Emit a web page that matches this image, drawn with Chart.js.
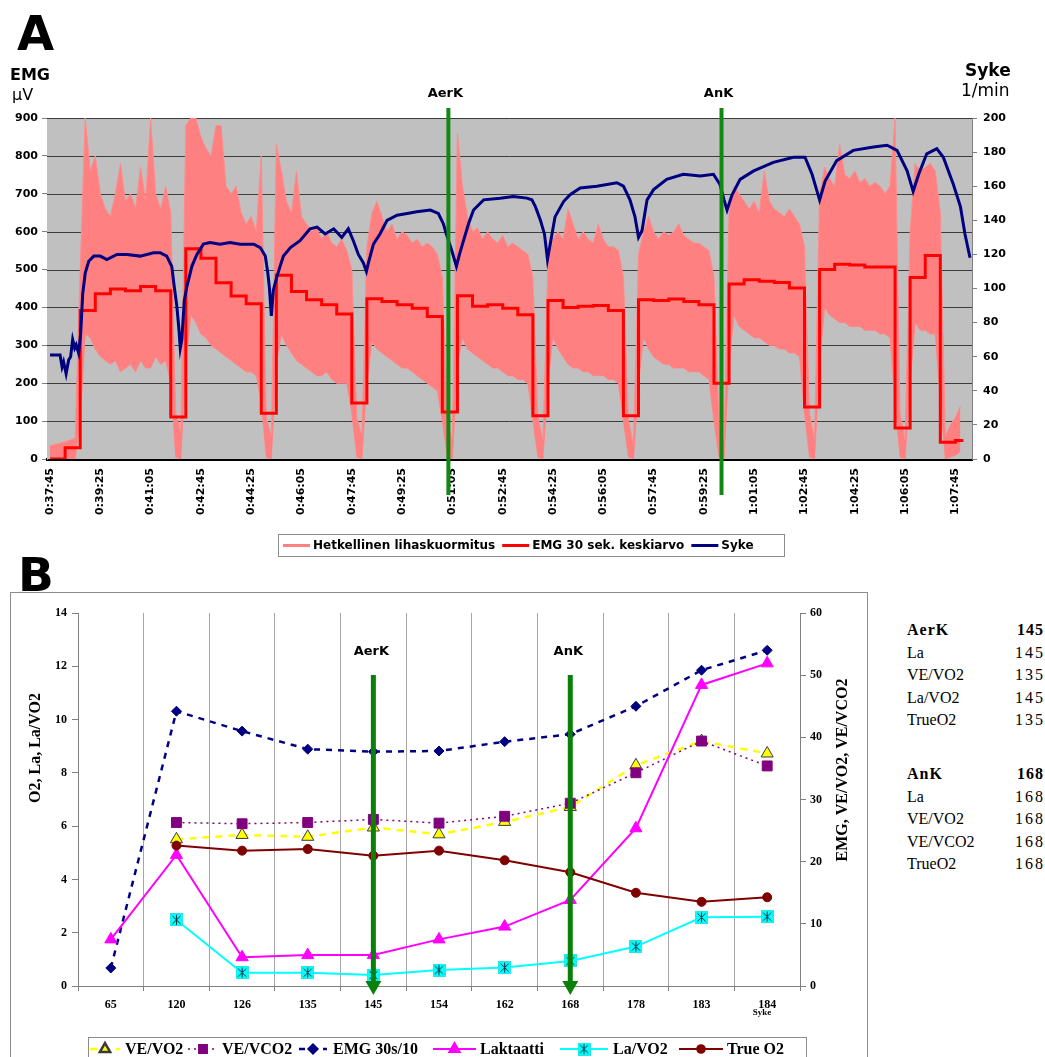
<!DOCTYPE html>
<html lang="fi">
<head>
<meta charset="utf-8">
<title>EMG, syke ja kynnykset</title>
<script src="https://cdn.jsdelivr.net/npm/chart.js@4.4.1/dist/chart.umd.min.js"></script>
<style>
  html, body { margin: 0; padding: 0; background: #fff; }
  body { width: 1045px; height: 1057px; position: relative; overflow: hidden; }
  .t { position: absolute; white-space: nowrap; line-height: 1; color: #000; }
  .sans { font-family: "DejaVu Sans", Verdana, sans-serif; }
  .serif { font-family: "Liberation Serif", "Times New Roman", serif; }
  #cA { position: absolute; left: 0; top: 0; }
  #frameB { position: absolute; left: 10px; top: 592px; width: 858px; height: 520px;
            border: 1px solid #8c8c8c; box-sizing: border-box; }
  #cB { position: absolute; left: 11px; top: 593px; }
  .row { position: absolute; left: 907px; width: 136px; font-size: 16px; line-height: 16px; }
  .row .v { position: absolute; right: -2px; top: 0; letter-spacing: 2px; }
  .row.head .k { font-weight: bold; letter-spacing: 1px; }
  .row.head .v { font-weight: bold; letter-spacing: 1px; right: -1px; }
</style>
</head>
<body>
<canvas id="cA" width="1045" height="565"></canvas>

<div class="t sans" style="left:17px;top:9px;font-size:48px;font-weight:bold;">A</div>
<div class="t sans" style="left:10px;top:67px;font-size:16px;font-weight:bold;">EMG</div>
<div class="t sans" style="left:12px;top:87px;font-size:16px;">µV</div>
<div class="t sans" style="left:965px;top:62px;font-size:17px;font-weight:bold;">Syke</div>
<div class="t sans" style="left:961px;top:82px;font-size:17px;">1/min</div>

<div id="frameB"></div>
<canvas id="cB" width="856" height="464"></canvas>
<div class="t sans" style="left:18px;top:551px;font-size:47px;font-weight:bold;">B</div>

<div id="table" class="serif"></div>

<script>
// ---------- Panel A: EMG and heart rate over the test ----------
const clockLabels = ['0:37:45','0:39:25','0:41:05','0:42:45','0:44:25','0:46:05','0:47:45',
  '0:49:25','0:51:05','0:52:45','0:54:25','0:56:05','0:57:45','0:59:25','1:01:05',
  '1:02:45','1:04:25','1:06:05','1:07:45'];

// Instantaneous muscle load: upper and lower envelope, one sample every 10 s
const rawStep = 10;
const rawHigh = [
  35, 38, 42, 45, 50, 55,
  500, 900, 760, 800, 700, 660, 640, 700, 780, 680, 700, 660, 770, 680, 900, 700, 660, 720, 650,
  120, 70,
  880, 900, 900, 850, 820, 800, 880, 880, 720, 700, 720, 650, 620, 640, 600, 800,
  110, 60,
  830, 760, 680, 650, 760, 640, 620, 600, 610, 580, 600, 570, 560, 580, 550, 500,
  110, 60,
  560, 650, 680, 640, 600, 620, 580, 600, 590, 570, 580, 560, 570, 560, 540, 480,
  100, 50,
  860, 720, 640, 600, 610, 580, 600, 580, 570, 590, 560, 570, 560, 550, 540, 480,
  110, 50,
  520, 580, 600, 580, 660, 620, 580, 600, 580, 570, 620, 580, 560, 560, 550, 480,
  100, 40,
  540, 600, 640, 600, 580, 600, 590, 600, 620, 590, 580, 570, 570, 560, 550, 480,
  100, 40,
  650, 720, 700, 680, 660, 680, 650, 760, 680, 660, 650, 640, 660, 640, 620, 560,
  120, 50,
  700, 770, 740, 720, 830, 750, 740, 760, 730, 740, 720, 730, 720, 700, 720, 900,
  120, 50,
  600, 780, 760, 770, 780, 760, 650,
  60, 90, 110, 140
];
const rawLow = [
  0, 0, 0, 0, 0, 0,
  100, 330, 320, 290, 270, 260, 250, 260, 230, 240, 250, 230, 260, 240, 240, 270, 250, 260, 200,
  5, 0,
  250, 380, 360, 330, 320, 300, 290, 280, 270, 260, 250, 240, 230, 230, 220, 150,
  5, 0,
  250, 330, 300, 280, 260, 250, 240, 230, 220, 220, 230, 210, 200, 200, 200, 120,
  5, 0,
  200, 310, 290, 280, 270, 260, 250, 240, 240, 230, 220, 210, 200, 190, 180, 100,
  5, 0,
  250, 320, 290, 280, 270, 260, 250, 240, 240, 230, 220, 220, 210, 210, 200, 100,
  5, 0,
  200, 320, 290, 270, 250, 240, 240, 230, 230, 220, 220, 220, 210, 210, 200, 100,
  5, 0,
  200, 320, 290, 270, 260, 250, 250, 240, 240, 240, 230, 230, 230, 220, 210, 100,
  5, 0,
  250, 380, 350, 340, 330, 320, 320, 310, 300, 300, 290, 290, 280, 280, 270, 120,
  5, 0,
  250, 400, 380, 370, 360, 360, 350, 350, 350, 340, 340, 340, 330, 330, 320, 150,
  5, 0,
  200, 360, 340, 340, 330, 330, 150,
  0, 5, 10, 20
];

// EMG 30 s mean, one value per 30 s window
const avgWindow = 30;
const emgAvg = [
  0, 30,
  392, 436, 449, 444, 455, 444, 111,
  555, 530, 465, 430, 410, 121,
  485, 442, 420, 407, 383, 148,
  423, 416, 407, 398, 376, 124,
  431, 403, 407, 398, 381, 114,
  418, 400, 403, 405, 392, 114,
  420, 418, 422, 416, 407, 200,
  462, 473, 469, 466, 451, 137,
  500, 514, 512, 507, 507, 82,
  479, 537, 44, 49
];
const emgAvgEnd = 1816;

// Heart rate (1/min), time in seconds from the start
const hrTime = [0,20,24,27,32,37,41,45,49,52,57,61,65,70,77,87,100,113,133,153,
  179,206,219,232,242,247,252,256,259,262,267,272,282,292,305,318,338,358,378,405,
  418,428,433,436,440,444,451,464,478,497,517,531,547,564,580,593,603,613,623,629,
  633,643,656,670,690,710,729,756,772,782,788,799,808,814,832,842,862,895,921,948,
  958,965,975,983,989,998,1004,1021,1034,1054,1087,1127,1140,1153,1163,1170,1177,1187,1200,1226,
  1259,1293,1319,1332,1340,1346,1356,1372,1399,1438,1478,1501,1515,1525,1530,1541,1564,1597,1637,1664,
  1684,1704,1716,1727,1743,1763,1776,1796,1810,1819,1829];
const hrValue = [61,61,54,57,50,58,60,70,65,67,62,74,97,109,116,119,119,117,120,120,
  119,121,121,119,113,101,90,77,65,70,93,101,113,120,126,127,126,127,126,126,
  124,119,109,101,84,99,107,119,124,128,135,136,132,135,130,135,128,120,115,110,
  115,126,132,140,143,144,145,146,144,138,132,122,113,120,138,146,152,153,154,153,
  152,148,140,132,117,132,142,151,155,159,160,162,160,152,142,130,134,152,158,164,
  167,166,167,161,152,146,155,164,169,174,177,177,167,157,152,163,175,181,183,184,
  181,169,157,167,179,182,177,161,148,132,118];

const thresholdsA = [{ label: 'AerK', t: 792 }, { label: 'AnK', t: 1335 }];

// ---------- Panel B: values per heart-rate stage ----------
const sykeLabels = ['65','120','126','135','145','154','162','168','178','183','184'];
const veVo2     = [null, 23.6, 24.3, 24.0, 25.5, 24.4, 26.4, 28.8, 35.5, 39.4, 37.4];
const veVco2    = [null, 26.3, 26.1, 26.3, 26.8, 26.2, 27.3, 29.4, 34.3, 39.4, 35.4];
const emgPer10  = [2.9, 44.2, 41.0, 38.1, 37.7, 37.8, 39.3, 40.5, 45.0, 50.8, 54.0];
const laktaatti = [1.75, 4.92, 1.08, 1.16, 1.16, 1.75, 2.23, 3.23, 5.92, 11.3, 12.11];
const laVo2     = [null, 2.48, 0.50, 0.50, 0.41, 0.60, 0.69, 0.94, 1.48, 2.58, 2.60];
const trueO2    = [null, 5.27, 5.08, 5.14, 4.89, 5.08, 4.72, 4.27, 3.50, 3.16, 3.33];
const thresholdsB = [{ label: 'AerK', syke: '145' }, { label: 'AnK', syke: '168' }];

// Threshold summary shown beside panel B
const aerHead = ['AerK', '145'];
const aerRows = [['La', '145'], ['VE/VO2', '135'], ['La/VO2', '145'], ['TrueO2', '135']];
const anHead = ['AnK', '168'];
const anRows = [['La', '168'], ['VE/VO2', '168'], ['VE/VCO2', '168'], ['TrueO2', '168']];

// ---------- helpers ----------
function clockToSec(s) {
  const p = s.split(':').map(Number);
  return p[0] * 3600 + p[1] * 60 + p[2];
}
const t0 = clockToSec(clockLabels[0]);
const tickSecs = clockLabels.map(l => clockToSec(l) - t0);
const tickText = new Map(tickSecs.map((v, i) => [v, clockLabels[i]]));

const SANS = '"DejaVu Sans", Verdana, sans-serif';
const SERIF = '"Liberation Serif", "Times New Roman", serif';

// ---------- Panel A chart ----------
const avgPoints = emgAvg.map((v, i) => ({ x: i * avgWindow, y: v }));
avgPoints.push({ x: emgAvgEnd, y: emgAvg[emgAvg.length - 1] });

const panelAPlugin = {
  id: 'panelA',
  beforeDatasetsDraw(chart) {
    const { ctx, chartArea: a } = chart;
    ctx.save();
    ctx.fillStyle = '#c0c0c0';
    ctx.fillRect(a.left, a.top, a.right - a.left, a.bottom - a.top);
    // horizontal grid over the grey plot area
    const y = chart.scales.y;
    ctx.strokeStyle = '#3c3c3c';
    ctx.lineWidth = 1;
    for (let v = 100; v <= 900; v += 100) {
      const py = Math.round(y.getPixelForValue(v)) + 0.5;
      ctx.beginPath(); ctx.moveTo(a.left, py); ctx.lineTo(a.right, py); ctx.stroke();
    }
    ctx.restore();
  },
  afterDraw(chart) {
    const { ctx, chartArea: a } = chart;
    const x = chart.scales.x;
    ctx.save();
    // threshold markers
    thresholdsA.forEach(m => {
      const px = x.getPixelForValue(m.t);
      ctx.strokeStyle = '#118811';
      ctx.lineWidth = 4;
      ctx.beginPath(); ctx.moveTo(px, a.top - 10); ctx.lineTo(px, a.bottom + 36); ctx.stroke();
      ctx.fillStyle = '#000';
      ctx.font = 'bold 13px ' + SANS;
      ctx.textAlign = 'center';
      ctx.textBaseline = 'middle';
      ctx.fillText(m.label, px - 3, a.top - 24);
    });
    // legend
    const items = chart.data.datasets.filter(d => d.inLegend).sort((p, q) => p.legendPos - q.legendPos);
    const bx = 278, by = 534, bw = 506, bh = 22;
    ctx.fillStyle = '#fff';
    ctx.fillRect(bx, by, bw, bh);
    ctx.strokeStyle = '#8c8c8c'; ctx.lineWidth = 1;
    ctx.strokeRect(bx + 0.5, by + 0.5, bw, bh);
    ctx.font = 'bold 12px ' + SANS;
    ctx.textAlign = 'left';
    ctx.textBaseline = 'middle';
    let cx = bx + 5;
    const cy = by + bh / 2 + 0.5;
    items.forEach(d => {
      ctx.strokeStyle = d.legendColor || d.borderColor;
      ctx.lineWidth = 3;
      ctx.beginPath(); ctx.moveTo(cx, cy); ctx.lineTo(cx + 27, cy); ctx.stroke();
      cx += 30;
      ctx.fillStyle = '#000';
      ctx.fillText(d.label, cx, cy);
      cx += ctx.measureText(d.label).width + 7;
    });
    ctx.restore();
  }
};

new Chart(document.getElementById('cA'), {
  type: 'line',
  data: {
    datasets: [
      {
        label: 'Syke', inLegend: true, legendPos: 3,
        data: hrTime.map((t, i) => ({ x: t, y: hrValue[i] })),
        yAxisID: 'y2', borderColor: '#000080', borderWidth: 3, pointRadius: 0, tension: 0
      },
      {
        label: 'EMG 30 sek. keskiarvo', inLegend: true, legendPos: 2,
        data: avgPoints, yAxisID: 'y', borderColor: '#ff0000', borderWidth: 3,
        pointRadius: 0, stepped: 'before'
      },
      {
        label: 'Hetkellinen lihaskuormitus', inLegend: true, legendPos: 1, legendColor: '#ff8080',
        data: rawHigh.map((v, i) => ({ x: i * rawStep, y: v })), yAxisID: 'y',
        borderColor: '#ff8c8c', backgroundColor: '#ff8080', borderWidth: 1, pointRadius: 0,
        fill: '+1', tension: 0
      },
      {
        label: 'lower envelope', inLegend: false,
        data: rawLow.map((v, i) => ({ x: i * rawStep, y: v })), yAxisID: 'y',
        borderColor: '#ff8c8c', borderWidth: 1, pointRadius: 0, fill: false, tension: 0
      }
    ]
  },
  options: {
    responsive: false,
    animation: false,
    layout: { padding: { top: 118, bottom: 40, left: 0, right: 0 } },
    plugins: { legend: { display: false }, tooltip: { enabled: false } },
    scales: {
      x: {
        type: 'linear', min: -6, max: 1833,
        afterBuildTicks: s => { s.ticks = tickSecs.map(v => ({ value: v })); },
        afterFit: s => { s.height = 66; },
        grid: { display: true, drawOnChartArea: false, drawTicks: false },
        border: { display: true, color: '#000', width: 3 },
        ticks: {
          autoSkip: false, minRotation: 90, maxRotation: 90, padding: 9,
          color: '#000', font: { family: SANS, weight: 'bold', size: 11 },
          callback: v => tickText.get(v) || ''
        }
      },
      y: {
        position: 'left', min: 0, max: 900,
        afterFit: s => { s.width = 47; },
        grid: { drawOnChartArea: false, drawTicks: true, tickLength: 5, tickColor: '#808080' },
        border: { color: '#808080' },
        ticks: { stepSize: 100, padding: 4, color: '#000', font: { family: SANS, weight: 'bold', size: 11 } }
      },
      y2: {
        position: 'right', min: 0, max: 200,
        afterFit: s => { s.width = 73; },
        grid: { drawOnChartArea: false, drawTicks: true, tickLength: 5, tickColor: '#808080' },
        border: { color: '#808080' },
        ticks: { stepSize: 20, padding: 6, color: '#000', font: { family: SANS, weight: 'bold', size: 11 } }
      }
    }
  },
  plugins: [panelAPlugin]
});

// ---------- Panel B chart ----------
function starBox() {
  const c = document.createElement('canvas');
  c.width = 13; c.height = 13;
  const g = c.getContext('2d');
  g.fillStyle = '#22e8e8';
  g.fillRect(0, 0, 13, 13);
  g.fillStyle = '#00ffff';
  g.fillRect(1, 1, 11, 11);
  g.strokeStyle = '#1a2a40';
  g.lineWidth = 1;
  g.beginPath();
  g.moveTo(2.5, 2.5); g.lineTo(10.5, 10.5);
  g.moveTo(10.5, 2.5); g.lineTo(2.5, 10.5);
  g.moveTo(6.5, 1.5); g.lineTo(6.5, 11.5);
  g.stroke();
  return c;
}
const starImg = starBox();

function drawMarker(ctx, ds, x, y) {
  if (ds.pointStyle instanceof HTMLCanvasElement) {
    ctx.drawImage(ds.pointStyle, x - ds.pointStyle.width / 2, y - ds.pointStyle.height / 2);
    return;
  }
  ctx.fillStyle = ds.pointBackgroundColor;
  ctx.strokeStyle = ds.pointBorderColor;
  Chart.helpers.drawPoint(ctx, {
    pointStyle: ds.pointStyle, radius: ds.pointRadius * 0.85,
    borderWidth: ds.pointBorderWidth, rotation: 0
  }, x, y);
}

// legend slots: [sample start, sample width, text start] in canvas pixels
const legendSlotsB = [[79, 30, 114], [177, 30, 211], [288, 28, 322], [422, 43, 469], [549, 48, 602], [668, 44, 716]];

const panelBPlugin = {
  id: 'panelB',
  afterDraw(chart) {
    const { ctx, chartArea: a } = chart;
    const x = chart.scales.x;
    ctx.save();
    // axis titles
    ctx.fillStyle = '#000';
    ctx.font = 'bold 16px ' + SERIF;
    ctx.textAlign = 'center';
    ctx.textBaseline = 'middle';
    ctx.save(); ctx.translate(25, 155); ctx.rotate(-Math.PI / 2);
    ctx.fillText('O2, La, La/VO2', 0, 0); ctx.restore();
    ctx.save(); ctx.translate(832, 177); ctx.rotate(-Math.PI / 2);
    ctx.fillText('EMG, VE/VO2, VE/VCO2', 0, 0); ctx.restore();
    // x caption
    ctx.font = 'bold 9px ' + SERIF;
    ctx.fillText('Syke', 751, 420);

    // threshold arrows
    thresholdsB.forEach(m => {
      const px = x.getPixelForValue(sykeLabels.indexOf(m.syke));
      const top = a.top + 62, tip = a.bottom + 9;
      ctx.fillStyle = '#0a800a';
      ctx.fillRect(px - 2.5, top, 5, tip - 13 - top);
      ctx.beginPath();
      ctx.moveTo(px - 8, tip - 14); ctx.lineTo(px + 8, tip - 14); ctx.lineTo(px, tip);
      ctx.closePath(); ctx.fill();
      ctx.font = 'bold 13px ' + SANS;
      const w = ctx.measureText(m.label).width;
      ctx.fillStyle = '#fff';
      ctx.fillRect(px - w / 2 - 12, a.top + 27, w + 24, 24);
      ctx.fillStyle = '#000';
      ctx.textAlign = 'center';
      ctx.fillText(m.label, px - 2, a.top + 39);
    });

    // legend
    const bx = 77, by = 444, bw = 718, bh = 30;
    ctx.strokeStyle = '#8c8c8c'; ctx.lineWidth = 1;
    ctx.strokeRect(bx + 0.5, by + 0.5, bw, bh);
    ctx.font = 'bold 16px ' + SERIF;
    ctx.textAlign = 'left';
    const cy = by + 12;
    chart.data.datasets.forEach((ds, i) => {
      const [sx, sw, tx] = legendSlotsB[i];
      ctx.save();
      ctx.strokeStyle = ds.borderColor;
      ctx.lineWidth = ds.borderWidth;
      ctx.setLineDash(ds.borderDash || []);
      ctx.beginPath(); ctx.moveTo(sx, cy); ctx.lineTo(sx + sw, cy); ctx.stroke();
      ctx.setLineDash([]);
      drawMarker(ctx, ds, sx + sw / 2, cy);
      ctx.restore();
      ctx.fillStyle = '#000';
      ctx.fillText(ds.label, tx, cy + 1);
    });
    ctx.restore();
  }
};

const serifTicks = { color: '#000', font: { family: SERIF, weight: 'bold', size: 12 } };

new Chart(document.getElementById('cB'), {
  type: 'line',
  data: {
    labels: sykeLabels,
    datasets: [
      {
        label: 'VE/VO2', data: veVo2, yAxisID: 'y2', order: 6,
        borderColor: '#ffff00', borderWidth: 2.5, borderDash: [7, 6],
        pointStyle: 'triangle', pointRadius: 7, pointBackgroundColor: '#ffff00',
        pointBorderColor: '#3a3a3a', pointBorderWidth: 1
      },
      {
        label: 'VE/VCO2', data: veVco2, yAxisID: 'y2', order: 5,
        borderColor: '#800080', borderWidth: 1.5, borderDash: [2, 4],
        pointStyle: 'rect', pointRadius: 7, pointBackgroundColor: '#800080',
        pointBorderColor: '#800080', pointBorderWidth: 1
      },
      {
        label: 'EMG 30s/10', data: emgPer10, yAxisID: 'y2', order: 4,
        borderColor: '#000080', borderWidth: 2.5, borderDash: [6, 6],
        pointStyle: 'rectRot', pointRadius: 5, pointBackgroundColor: '#000080',
        pointBorderColor: '#000080', pointBorderWidth: 1
      },
      {
        label: 'Laktaatti', data: laktaatti, yAxisID: 'y', order: 3,
        borderColor: '#ff00ff', borderWidth: 2,
        pointStyle: 'triangle', pointRadius: 7, pointBackgroundColor: '#ff00ff',
        pointBorderColor: '#ff00ff', pointBorderWidth: 1
      },
      {
        label: 'La/VO2', data: laVo2, yAxisID: 'y', order: 2,
        borderColor: '#00ffff', borderWidth: 2,
        pointStyle: starImg, pointRadius: 6, pointBackgroundColor: '#00ffff',
        pointBorderColor: '#00ffff', pointBorderWidth: 1
      },
      {
        label: 'True O2', data: trueO2, yAxisID: 'y', order: 1,
        borderColor: '#800000', borderWidth: 2,
        pointStyle: 'circle', pointRadius: 4.5, pointBackgroundColor: '#800000',
        pointBorderColor: '#800000', pointBorderWidth: 1
      }
    ]
  },
  options: {
    responsive: false,
    animation: false,
    layout: { padding: { top: 20, bottom: 41, left: 0, right: 0 } },
    plugins: { legend: { display: false }, tooltip: { enabled: false } },
    scales: {
      x: {
        type: 'category', offset: true,
        afterFit: s => { s.height = 30; },
        grid: { offset: true, color: '#a6a6a6', drawTicks: true, tickLength: 5, tickColor: '#808080' },
        border: { color: '#808080' },
        ticks: Object.assign({ padding: 7, maxRotation: 0, autoSkip: false }, serifTicks)
      },
      y: {
        position: 'left', min: 0, max: 14,
        afterFit: s => { s.width = 67; },
        grid: { drawOnChartArea: false, drawTicks: true, tickLength: 6, tickColor: '#808080' },
        border: { color: '#808080' },
        ticks: Object.assign({ stepSize: 2, padding: 5 }, serifTicks)
      },
      y2: {
        position: 'right', min: 0, max: 60,
        afterFit: s => { s.width = 67; },
        grid: { drawOnChartArea: false, drawTicks: true, tickLength: 6, tickColor: '#808080' },
        border: { color: '#808080' },
        ticks: Object.assign({ stepSize: 10, padding: 4 }, serifTicks)
      }
    }
  },
  plugins: [panelBPlugin]
});

// ---------- threshold summary ----------
(function buildTable() {
  const host = document.getElementById('table');
  const baseTops = [622, 766];
  const step = 22.5;
  [[aerHead, aerRows], [anHead, anRows]].forEach(([head, rows], g) => {
    const all = [head].concat(rows);
    all.forEach((r, i) => {
      const div = document.createElement('div');
      div.className = 'row' + (i === 0 ? ' head' : '');
      div.style.top = (baseTops[g] + i * step) + 'px';
      const lab = document.createElement('span');
      lab.className = 'k';
      lab.textContent = r[0];
      const val = document.createElement('span');
      val.className = 'v';
      val.textContent = r[1];
      div.appendChild(lab);
      div.appendChild(val);
      host.appendChild(div);
    });
  });
})();
</script>
</body>
</html>
